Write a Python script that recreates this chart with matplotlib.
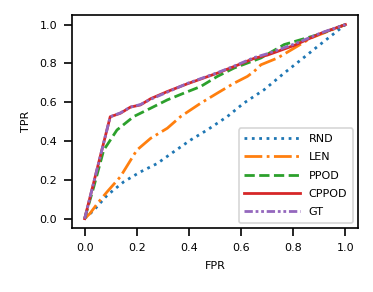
import matplotlib
matplotlib.use("Agg")
import matplotlib.pyplot as plt

# ROC curves
rnd_fpr = [0.0, 0.035, 0.086, 0.15, 0.214, 0.278, 0.342, 0.406, 0.47, 0.547, 0.61, 0.688, 0.765, 0.83, 0.894, 1.0]
rnd_tpr = [0.0, 0.043, 0.12, 0.19, 0.241, 0.284, 0.345, 0.405, 0.457, 0.526, 0.595, 0.664, 0.75, 0.819, 0.888, 1.0]

len_fpr = [0.0, 0.02, 0.05, 0.086, 0.137, 0.2, 0.253, 0.317, 0.368, 0.445, 0.509, 0.573, 0.624, 0.65, 0.676, 0.74, 0.804, 0.868, 1.0]
len_tpr = [0.0, 0.026, 0.08, 0.138, 0.216, 0.353, 0.414, 0.466, 0.526, 0.595, 0.647, 0.698, 0.733, 0.759, 0.793, 0.828, 0.879, 0.931, 1.0]

ppod_fpr = [0.0, 0.035, 0.073, 0.124, 0.188, 0.253, 0.317, 0.381, 0.445, 0.509, 0.573, 0.676, 0.765, 0.894, 1.0]
ppod_tpr = [0.0, 0.164, 0.353, 0.457, 0.526, 0.569, 0.612, 0.647, 0.681, 0.733, 0.776, 0.828, 0.897, 0.948, 1.0]

cppod_fpr = [0.0, 0.098, 0.137, 0.176, 0.214, 0.253, 0.317, 0.394, 0.509, 0.573, 0.65, 0.701, 0.804, 0.906, 1.0]
cppod_tpr = [0.0, 0.525, 0.543, 0.575, 0.586, 0.618, 0.655, 0.695, 0.75, 0.784, 0.826, 0.843, 0.893, 0.955, 1.0]

gt_fpr = [0.0, 0.098, 0.137, 0.176, 0.214, 0.253, 0.317, 0.394, 0.509, 0.573, 0.65, 0.701, 0.804, 0.906, 1.0]
gt_tpr = [0.0, 0.525, 0.545, 0.575, 0.588, 0.615, 0.652, 0.697, 0.752, 0.786, 0.83, 0.85, 0.9, 0.957, 1.0]

ticks = [0.0, 0.2, 0.4, 0.6, 0.8, 1.0]

plt.rcParams["font.size"] = 8
plt.rcParams["axes.linewidth"] = 1.2

fig = plt.figure(figsize=(3.73, 2.92), dpi=100)
ax = fig.add_axes([0.192, 0.218, 0.769, 0.731])

ax.plot(rnd_fpr, rnd_tpr, ":", color="tab:blue", lw=2, label="RND")
ax.plot(len_fpr, len_tpr, "-.", color="tab:orange", lw=2, label="LEN")
ax.plot(ppod_fpr, ppod_tpr, "--", color="tab:green", lw=2, label="PPOD")
ax.plot(cppod_fpr, cppod_tpr, "-", color="tab:red", lw=2, label="CPPOD")
ax.plot(gt_fpr, gt_tpr, linestyle=(0, (3, 1, 1, 1, 1, 1)), color="tab:purple", lw=2, label="GT")

ax.set_xlabel("FPR", labelpad=6)
ax.set_ylabel("TPR", labelpad=6)
ax.set_xticks(ticks)
ax.set_yticks(ticks)
ax.tick_params(length=5.5, width=1.2, pad=5)
leg = ax.legend(loc="lower right", handlelength=5, labelspacing=0.75, borderpad=0.5)
leg.get_frame().set_linewidth(1.2)

fig.savefig("out.png", dpi=100)
